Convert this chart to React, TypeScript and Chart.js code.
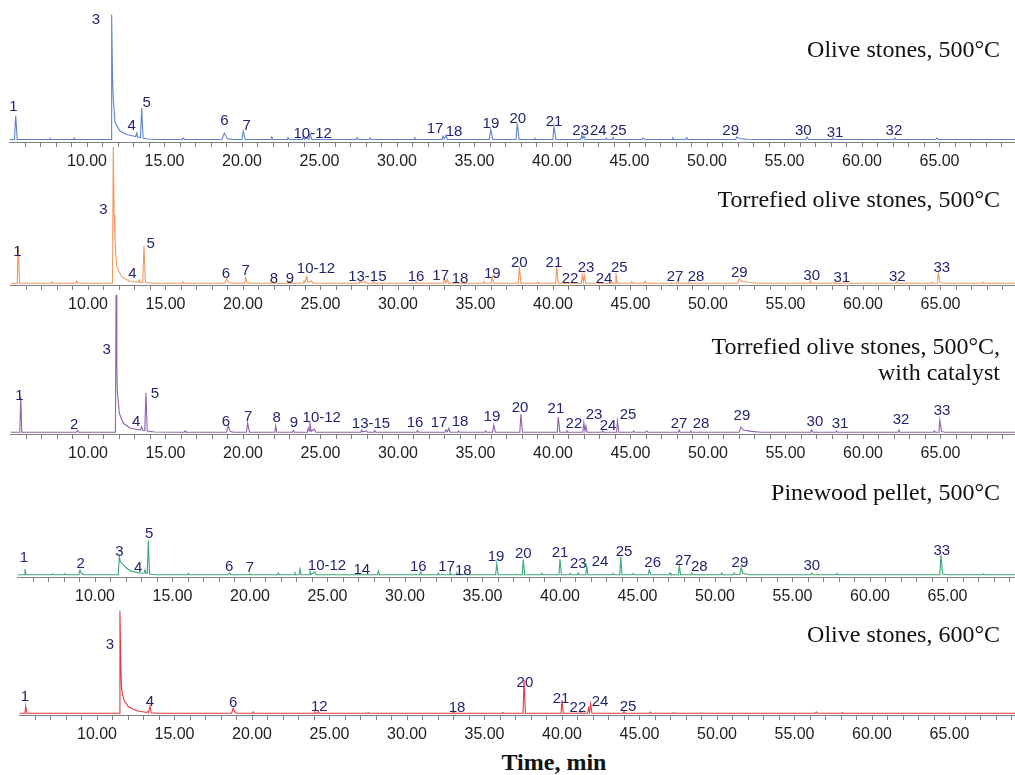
import React, { useEffect, useRef } from 'react';
import { Chart, registerables } from 'chart.js';

Chart.register(...registerables);

// ---------- axis ----------
const xMin = 5;
const xMax = 70;
const majorTicks = [10, 15, 20, 25, 30, 35, 40, 45, 50, 55, 60, 65];

// ---------- series: [time (min), signal] ----------
const olive500: [number, number][] = [
  [5.0, 2.5], [5.32, 2.5], [5.4, 26.5], [5.5, 2.5],
  [7.55, 2.5], [7.61, 3.5], [7.68, 2.5], [9.1, 2.5], [9.16, 4], [9.24, 2.5],
  [11.55, 2.5], [11.59, 127.5], [11.65, 62], [11.7, 42], [11.81, 19.5], [12.13, 11], [12.56, 7.5], [12.99, 6],
  [13.15, 5.5], [13.21, 9], [13.28, 5], [13.45, 4.5], [13.53, 34], [13.62, 4], [13.9, 3], [14.5, 2.5],
  [16.15, 2.5], [16.2, 4], [16.3, 2.5],
  [18.7, 2.5], [18.86, 9], [19.05, 3.5], [19.3, 2.5],
  [20.0, 2.5], [20.08, 11], [20.2, 2.5],
  [21.87, 2.5], [21.92, 5], [22.0, 2.5], [22.92, 2.5], [22.97, 4.5], [23.05, 2.5],
  [23.9, 2.5], [23.95, 6], [24.02, 2.5], [24.2, 4], [24.32, 2.5], [24.39, 8], [24.5, 2.5],
  [27.35, 2.5], [27.42, 4.5], [27.5, 2.5], [28.2, 2.5], [28.26, 4], [28.34, 2.5],
  [31.1, 2.5], [31.16, 4], [31.24, 2.5],
  [32.9, 2.5], [32.97, 6], [33.05, 3], [33.16, 7], [33.25, 2.5],
  [35.95, 2.5], [36.05, 12.5], [36.18, 2.5],
  [37.68, 2.5], [37.76, 18.5], [37.88, 2.5],
  [38.85, 2.5], [38.9, 3.5], [38.96, 2.5],
  [40.05, 2.5], [40.13, 15.5], [40.25, 2.5],
  [41.85, 2.5], [41.92, 7], [41.99, 3.5], [42.06, 6], [42.15, 2.5],
  [43.45, 2.5], [43.5, 4], [43.58, 2.5], [43.88, 2.5], [43.94, 4.5], [44.02, 2.5],
  [45.8, 2.5], [45.87, 4], [46.0, 2.5], [47.75, 2.5], [47.8, 4], [47.87, 2.5], [48.63, 2.5], [48.69, 4.5], [48.76, 2.5],
  [51.85, 2.5], [51.92, 5], [52.1, 3.5], [52.6, 2.8], [53.2, 2.5],
  [56.38, 2.5], [56.45, 5], [56.55, 2.5], [58.07, 2.5], [58.13, 4], [58.2, 2.5],
  [62.07, 2.5], [62.13, 4], [62.2, 2.5], [64.75, 2.5], [64.82, 4], [64.95, 2.5], [70, 2.5],
];

const torrefied500: [number, number][] = [
  [5.0, 1.8], [5.43, 1.8], [5.5, 38.3], [5.58, 1.8],
  [7.6, 1.8], [7.66, 3], [7.72, 1.8], [9.2, 1.8], [9.27, 4], [9.35, 1.8],
  [11.58, 1.8], [11.63, 138.3], [11.69, 70], [11.74, 45], [11.85, 18.3], [12.17, 8.3], [12.71, 3.5],
  [13.25, 3], [13.31, 5], [13.37, 2.5], [13.53, 2.5], [13.61, 39], [13.7, 2.5], [14.2, 1.8],
  [16.08, 1.8], [16.13, 3.3], [16.2, 1.8],
  [18.82, 1.8], [18.95, 6], [19.1, 2.5], [19.3, 1.8],
  [20.1, 1.8], [20.17, 7], [20.28, 1.8],
  [21.87, 1.8], [21.92, 3.2], [21.98, 1.8], [22.98, 1.8], [23.03, 3], [23.09, 1.8],
  [23.88, 1.8], [23.94, 4], [24.0, 2.5], [24.11, 8.3], [24.2, 2.5], [24.43, 4], [24.52, 1.8],
  [27.5, 1.8], [27.55, 4], [27.62, 2.2], [27.87, 3.5], [27.95, 1.8], [28.36, 1.8], [28.41, 4], [28.48, 1.8],
  [31.1, 1.8], [31.16, 3.5], [31.24, 1.8],
  [32.93, 1.8], [32.99, 5.5], [33.08, 2.2], [33.18, 5.5], [33.26, 1.8], [33.74, 1.8], [33.79, 3], [33.85, 1.8],
  [35.5, 1.8], [35.55, 3.5], [35.62, 1.8], [36.0, 1.8], [36.08, 8], [36.18, 1.8],
  [37.76, 1.8], [37.83, 18.3], [37.93, 1.8],
  [38.98, 1.8], [39.03, 3], [39.09, 1.8],
  [40.17, 1.8], [40.24, 18.3], [40.34, 1.8],
  [41.83, 1.8], [41.89, 10], [41.96, 3], [42.02, 9], [42.1, 1.8],
  [43.74, 1.8], [43.79, 3], [43.85, 1.8], [44.0, 1.8], [44.06, 11.7], [44.15, 1.8],
  [45.03, 1.8], [45.08, 3.3], [45.14, 1.8], [45.88, 1.8], [45.94, 3.8], [46.02, 1.8],
  [47.99, 1.8], [48.04, 4.5], [48.1, 1.8], [48.74, 1.8], [48.79, 3.5], [48.85, 1.8],
  [51.92, 1.8], [52.02, 6], [52.2, 3.5], [52.7, 2.5], [53.3, 1.8],
  [56.52, 1.8], [56.58, 4.5], [56.66, 1.8], [58.14, 1.8], [58.19, 3], [58.25, 1.8],
  [62.15, 1.8], [62.21, 3.5], [62.28, 1.8],
  [64.37, 1.8], [64.43, 3], [64.5, 1.8], [64.8, 1.8], [64.86, 11.7], [64.97, 2.5], [65.2, 1.8],
  [67.69, 1.8], [67.74, 2.6], [67.8, 1.8], [70, 1.8],
];

const torrefiedCatalyst: [number, number][] = [
  [5.0, 1.8], [5.6, 1.8], [5.66, 37.3], [5.73, 1.8],
  [9.24, 1.8], [9.31, 3.5], [9.4, 1.8],
  [11.77, 1.8], [11.81, 139], [11.86, 70], [11.89, 44], [12.02, 20.7], [12.28, 10.7], [12.71, 6], [13.14, 4.5],
  [13.4, 4.2], [13.46, 7.3], [13.52, 4], [13.66, 3.5], [13.74, 41.3], [13.82, 3], [14.3, 2],
  [16.2, 1.8], [16.26, 3], [16.32, 1.8],
  [18.93, 1.8], [19.05, 8], [19.18, 2.5], [19.4, 1.8],
  [20.22, 1.8], [20.3, 10.7], [20.42, 1.8],
  [22.05, 1.8], [22.11, 8], [22.18, 1.8], [23.2, 1.8], [23.25, 3.5], [23.31, 1.8],
  [24.15, 1.8], [24.21, 6], [24.26, 3], [24.32, 12], [24.4, 2.5], [24.6, 5], [24.7, 1.8],
  [27.6, 1.8], [27.65, 4], [27.72, 2.2], [27.97, 3], [28.04, 1.8], [28.45, 1.8], [28.5, 3.5], [28.57, 1.8],
  [31.2, 1.8], [31.26, 3.5], [31.33, 1.8],
  [33.03, 1.8], [33.09, 4], [33.17, 2.2], [33.28, 6], [33.36, 1.8], [33.85, 1.8], [33.9, 3], [33.96, 1.8],
  [35.6, 1.8], [35.65, 3], [35.71, 1.8], [36.1, 1.8], [36.18, 9], [36.28, 1.8],
  [37.86, 1.8], [37.93, 20], [38.03, 1.8],
  [40.27, 1.8], [40.34, 17], [40.44, 1.8],
  [40.85, 1.8], [40.9, 3], [40.96, 1.8],
  [41.93, 1.8], [41.99, 11], [42.06, 3], [42.12, 8], [42.2, 1.8],
  [43.15, 1.8], [43.2, 3], [43.26, 1.8], [44.1, 1.8], [44.16, 13], [44.25, 1.8],
  [45.15, 1.8], [45.2, 3], [45.26, 1.8], [45.99, 1.8], [46.05, 3], [46.12, 1.8],
  [48.09, 1.8], [48.14, 4], [48.2, 1.8], [48.84, 1.8], [48.89, 3], [48.95, 1.8],
  [52.02, 1.8], [52.12, 7], [52.3, 4], [52.8, 2.6], [53.4, 1.8],
  [56.62, 1.8], [56.68, 4], [56.76, 1.8], [58.24, 1.8], [58.29, 3], [58.35, 1.8],
  [62.25, 1.8], [62.31, 4], [62.38, 1.8],
  [64.55, 1.8], [64.6, 3], [64.67, 1.8], [64.9, 1.8], [64.96, 14], [65.07, 2.5], [65.3, 1.8], [70, 1.8],
];

const pinewood500: [number, number][] = [
  [5.0, 2.3], [5.42, 2.3], [5.48, 8], [5.55, 2.3],
  [7.2, 2.3], [7.26, 3.3], [7.32, 2.3], [8.0, 2.3], [8.06, 3.2], [8.12, 2.3],
  [8.96, 2.3], [9.03, 7], [9.12, 3.5], [9.3, 2.3],
  [11.5, 2.3], [11.57, 20], [11.63, 16], [11.83, 12], [12.1, 8], [12.37, 5.6], [12.9, 4],
  [13.17, 3.8], [13.23, 7], [13.3, 3.5], [13.37, 3.5], [13.44, 36.5], [13.52, 3], [13.9, 2.3],
  [15.97, 2.3], [16.02, 3.5], [16.08, 2.3],
  [18.58, 2.3], [18.66, 4], [18.75, 2.3], [19.95, 2.3], [20.0, 3], [20.06, 2.3],
  [21.78, 2.3], [21.83, 4], [21.89, 2.3], [22.85, 2.3], [22.9, 4], [22.96, 2.3],
  [23.17, 2.3], [23.23, 8], [23.3, 2.3], [23.82, 2.3], [23.87, 5], [23.94, 2.5], [24.19, 5], [24.26, 2.3],
  [28.22, 2.3], [28.28, 6], [28.35, 2.3],
  [30.95, 2.3], [31.01, 5], [31.08, 2.3],
  [32.1, 2.3], [32.15, 4], [32.21, 2.3], [32.85, 2.3], [32.9, 5], [32.97, 2.3], [33.3, 2.3], [33.35, 4], [33.41, 2.3],
  [35.85, 2.3], [35.92, 13.5], [36.01, 2.3],
  [37.56, 2.3], [37.63, 17.7], [37.72, 2.3],
  [38.77, 2.3], [38.82, 3.5], [38.88, 2.3],
  [39.93, 2.3], [40.0, 17.7], [40.09, 2.3],
  [40.6, 2.3], [40.65, 3.5], [40.71, 2.3], [41.13, 2.3], [41.18, 4], [41.24, 2.3],
  [41.66, 2.3], [41.72, 10.7], [41.8, 2.3],
  [43.39, 2.3], [43.44, 3.5], [43.5, 2.3], [43.86, 2.3], [43.92, 20], [44.0, 2.3],
  [44.68, 2.3], [44.73, 3.5], [44.79, 2.3], [45.7, 2.3], [45.76, 7], [45.86, 2.5], [46.0, 2.3],
  [47.05, 2.3], [47.1, 4], [47.16, 2.3], [47.64, 2.3], [47.7, 11.7], [47.78, 2.3],
  [48.45, 2.3], [48.5, 4], [48.56, 2.3], [50.38, 2.3], [50.43, 4], [50.49, 2.3],
  [51.18, 2.3], [51.23, 4], [51.3, 2.5], [51.6, 2.5], [51.68, 9.3], [51.8, 3.5], [52.2, 2.3],
  [56.18, 2.3], [56.24, 4], [56.31, 2.3], [57.8, 2.3], [57.85, 3.5], [57.91, 2.3],
  [64.5, 2.3], [64.58, 22], [64.68, 3], [65.0, 2.3],
  [67.25, 2.3], [67.3, 3], [67.36, 2.3], [70, 2.3],
];

const olive600: [number, number][] = [
  [5.0, 1.7], [5.35, 1.7], [5.4, 9], [5.47, 1.7],
  [11.45, 1.7], [11.48, 104.3], [11.54, 45], [11.59, 25], [11.74, 15], [12.02, 8.3], [12.56, 4.3], [13.21, 2.5],
  [13.27, 3.5], [13.33, 2.5], [13.42, 9], [13.5, 2.2], [13.9, 1.7],
  [18.68, 1.7], [18.79, 6.7], [18.92, 2.2], [19.1, 1.7],
  [20.03, 1.7], [20.08, 3], [20.14, 1.7],
  [24.01, 1.7], [24.06, 3], [24.12, 1.7], [24.23, 1.7], [24.28, 3.5], [24.34, 1.7],
  [27.45, 1.7], [27.5, 2.5], [27.56, 1.7],
  [32.94, 1.7], [33.0, 4.5], [33.07, 1.7],
  [36.15, 1.7], [36.2, 2.5], [36.26, 1.7],
  [37.49, 1.7], [37.55, 35], [37.64, 1.7],
  [39.94, 1.7], [40.0, 15], [40.08, 1.7],
  [41.15, 1.7], [41.2, 2.5], [41.26, 1.7],
  [41.66, 1.7], [41.72, 7], [41.78, 3], [41.85, 11], [41.93, 1.7],
  [43.95, 1.7], [44.0, 3.5], [44.07, 1.7],
  [45.65, 1.7], [45.7, 2.8], [45.77, 1.7], [47.15, 1.7], [47.2, 2.3], [47.26, 1.7],
  [48.95, 1.7], [49.0, 2.2], [49.06, 1.7],
  [56.35, 1.7], [56.4, 3], [56.47, 1.7], [58.05, 1.7], [58.1, 2.5], [58.16, 1.7], [70, 1.7],
];

// ---------- peak labels: [text, time (min), signal] ----------
const olive500Labels: [string, number, number][] = [
  ['1', 5.25, 35.2], ['3', 10.58, 122.5], ['4', 12.88, 15.8], ['5', 13.85, 39.2], ['6', 18.86, 20.8],
  ['7', 20.3, 16.5], ['10-12', 24.56, 8.2], ['17', 32.45, 13.2], ['18', 33.68, 9.8], ['19', 36.06, 18.2],
  ['20', 37.79, 23.5], ['21', 40.13, 19.8], ['23', 41.85, 10.8], ['24', 42.99, 10.8], ['25', 44.28, 10.8],
  ['29', 51.53, 10.8], ['30', 56.21, 11.5], ['31', 58.26, 9.2], ['32', 62.06, 10.8],
];
const torrefied500Labels: [string, number, number][] = [
  ['1', 5.44, 33.3], ['3', 10.99, 75], ['4', 12.86, 10.7], ['5', 14.05, 41], ['6', 18.9, 11],
  ['7', 20.17, 14], ['8', 22.0, 5.7], ['9', 23.03, 5.7], ['10-12', 24.71, 15.7], ['13-15', 28.02, 8.3],
  ['16', 31.16, 8.3], ['17', 32.75, 9], ['18', 34.0, 5.7], ['19', 36.08, 10.7], ['20', 37.83, 22.3],
  ['21', 40.06, 21.7], ['22', 41.1, 5.7], ['23', 42.13, 17.3], ['24', 43.29, 5.7], ['25', 44.28, 16.7],
  ['27', 47.87, 8.3], ['28', 49.23, 7.7], ['29', 52.02, 12.3], ['30', 56.69, 9], ['31', 58.63, 6.7],
  ['32', 62.21, 7.7], ['33', 65.08, 17.3],
];
const torrefiedCatalystLabels: [string, number, number][] = [
  ['1', 5.57, 38], ['2', 9.1, 9], ['3', 11.21, 84], ['4', 13.1, 12.3], ['5', 14.32, 40], ['6', 18.9, 12.3],
  ['7', 20.34, 17.3], ['8', 22.17, 15.7], ['9', 23.29, 11.3], ['10-12', 25.08, 15.7], ['13-15', 28.26, 10],
  ['16', 31.1, 11], ['17', 32.65, 11], ['18', 34.0, 12], ['19', 36.06, 17], ['20', 37.87, 26],
  ['21', 40.19, 25], ['22', 41.35, 10], ['23', 42.65, 19], ['24', 43.55, 8], ['25', 44.84, 19],
  ['27', 48.13, 10], ['28', 49.55, 10], ['29', 52.19, 18], ['30', 56.9, 12], ['31', 58.52, 10],
  ['32', 62.45, 14], ['33', 65.1, 23],
];
const pinewood500Labels: [string, number, number][] = [
  ['1', 5.42, 18.7], ['2', 9.08, 12.7], ['3', 11.57, 25.3], ['4', 12.79, 8.7], ['5', 13.5, 43],
  ['6', 18.66, 10.3], ['7', 20.0, 8.7], ['10-12', 24.97, 11], ['14', 27.21, 7], ['16', 30.86, 9.7],
  ['17', 32.69, 10.3], ['18', 33.76, 6.3], ['19', 35.87, 19.7], ['20', 37.63, 23], ['21', 40.0, 24.3],
  ['23', 41.18, 12.7], ['24', 42.58, 14.7], ['25', 44.13, 25.3], ['26', 45.98, 13.7], ['27', 47.95, 16],
  ['28', 48.99, 10.3], ['29', 51.61, 14.3], ['30', 56.24, 11.3], ['33', 64.63, 26.3],
];
const olive600Labels: [string, number, number][] = [
  ['1', 5.35, 18.3], ['3', 10.84, 70], ['4', 13.42, 13.3], ['6', 18.79, 11.7], ['12', 24.34, 7.7],
  ['18', 33.23, 7], ['20', 37.61, 32], ['21', 39.94, 16], ['22', 41.03, 7], ['24', 42.45, 13], ['25', 44.26, 8],
];

// ---------- panel titles ----------
const titleOlive500 = ['Olive stones, 500°C'];
const titleTorrefied500 = ['Torrefied olive stones, 500°C'];
const titleCatalyst = ['Torrefied olive stones, 500°C,', 'with catalyst'];
const titlePinewood = ['Pinewood pellet, 500°C'];
const titleOlive600 = ['Olive stones, 600°C'];
const xAxisTitle = 'Time, min';

// ---------- layout ----------
const PAGE_W = 1015;
const PAGE_H = 775;
const CANVAS_W = 1040;
const PX_PER_MIN = 15.5;
const AXIS_BAND = 32;

type PanelProps = {
  series: [number, number][];
  labels: [string, number, number][];
  color: string;
  axisY: number;
  left: number;
  plotH: number;
};

function Panel({ series, labels, color, axisY, left, plotH }: PanelProps) {
  const ref = useRef<HTMLCanvasElement>(null);
  useEffect(() => {
    const canvas = ref.current;
    if (!canvas) return;
    const chartW = (xMax - xMin) * PX_PER_MIN;
    const labelPlugin = {
      id: 'peakLabels',
      afterDatasetsDraw(chart: any) {
        const { ctx } = chart;
        const xs = chart.scales.x;
        const ys = chart.scales.y;
        ctx.save();
        ctx.fillStyle = '#24246f';
        ctx.font = '15px "Liberation Sans", Arial, sans-serif';
        ctx.textAlign = 'center';
        ctx.textBaseline = 'middle';
        for (const [text, t, h] of labels) {
          ctx.fillText(text, xs.getPixelForValue(t), ys.getPixelForValue(h));
        }
        ctx.restore();
      },
    };
    const chart = new Chart(canvas, {
      type: 'line',
      data: {
        datasets: [
          {
            data: series.map(([x, y]) => ({ x, y })),
            borderColor: color,
            borderWidth: 1.1,
            pointRadius: 0,
            tension: 0,
            fill: false,
          },
        ],
      },
      options: {
        animation: false,
        responsive: false,
        maintainAspectRatio: false,
        events: [],
        layout: { padding: { left, right: CANVAS_W - left - chartW, top: 0, bottom: 0 } },
        plugins: { legend: { display: false }, tooltip: { enabled: false }, title: { display: false } },
        scales: {
          x: {
            type: 'linear',
            min: xMin,
            max: xMax,
            afterFit: (s: any) => {
              s.height = AXIS_BAND;
            },
            border: { display: true, color: '#808080', width: 1 },
            grid: {
              drawOnChartArea: false,
              drawTicks: true,
              tickLength: 5,
              color: (c: any) => (c.tick && c.tick.value === xMin ? 'rgba(0,0,0,0)' : '#808080'),
            },
            ticks: {
              stepSize: 1,
              autoSkip: false,
              maxRotation: 0,
              minRotation: 0,
              padding: 5,
              color: '#222',
              font: { family: '"Liberation Sans", Arial, sans-serif', size: 16 },
              callback: (v: any) => (majorTicks.includes(Number(v)) ? Number(v).toFixed(2) : ''),
            },
          },
          y: { display: false, min: 0, max: plotH },
        },
      } as any,
      plugins: [labelPlugin],
    });
    return () => chart.destroy();
  }, []);
  const h = plotH + AXIS_BAND;
  return (
    <canvas
      ref={ref}
      width={CANVAS_W}
      height={h}
      style={{ position: 'absolute', left: 0, top: axisY - plotH, width: CANVAS_W, height: h }}
    />
  );
}

function Title({ lines, y }: { lines: string[]; y: number }) {
  return (
    <div
      style={{
        position: 'absolute',
        right: 15,
        top: y - 14,
        textAlign: 'right',
        fontFamily: '"Liberation Serif", "Times New Roman", serif',
        fontSize: 24,
        lineHeight: '26px',
        color: '#111',
        whiteSpace: 'nowrap',
      }}
    >
      {lines.map((l, i) => (
        <div key={i}>{l}</div>
      ))}
    </div>
  );
}

export default function App() {
  return (
    <div
      style={{
        position: 'absolute',
        left: 0,
        top: 0,
        width: PAGE_W,
        height: PAGE_H,
        overflow: 'hidden',
        background: '#fff',
      }}
    >
      <Panel series={olive500} labels={olive500Labels} color="#5f83c8" axisY={142} left={9.5} plotH={140} />
      <Panel series={torrefied500} labels={torrefied500Labels} color="#f2975f" axisY={285} left={10.5} plotH={145} />
      <Panel series={torrefiedCatalyst} labels={torrefiedCatalystLabels} color="#8e63aa" axisY={434} left={10.5} plotH={145} />
      <Panel series={pinewood500} labels={pinewood500Labels} color="#3aa877" axisY={577} left={17.5} plotH={80} />
      <Panel series={olive600} labels={olive600Labels} color="#e8383d" axisY={715} left={19.5} plotH={115} />
      <Title lines={titleOlive500} y={50} />
      <Title lines={titleTorrefied500} y={200} />
      <Title lines={titleCatalyst} y={347} />
      <Title lines={titlePinewood} y={493} />
      <Title lines={titleOlive600} y={635} />
      <div
        style={{
          position: 'absolute',
          left: 454,
          width: 200,
          top: 748,
          textAlign: 'center',
          fontFamily: '"Liberation Serif", "Times New Roman", serif',
          fontWeight: 'bold',
          fontSize: 24,
          lineHeight: '28px',
          color: '#111',
        }}
      >
        {xAxisTitle}
      </div>
    </div>
  );
}
